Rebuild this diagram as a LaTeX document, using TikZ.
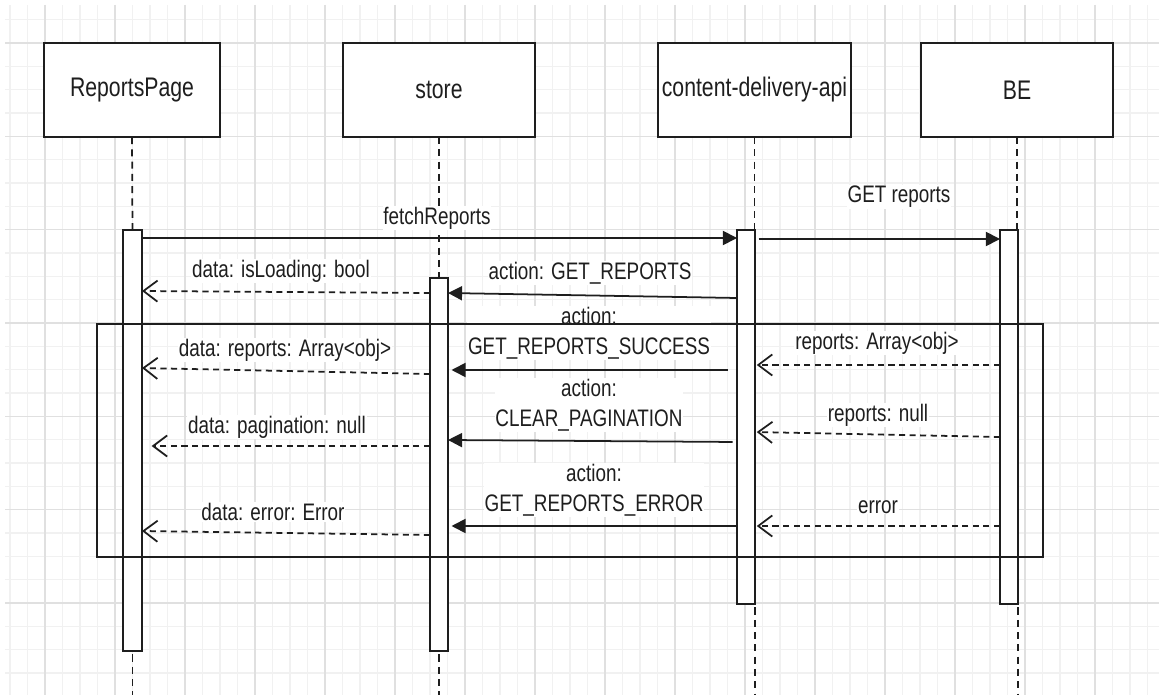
\documentclass[tikz,border=0pt]{standalone}
\usepackage{fontspec}
\setmainfont[FakeStretch=0.79]{Liberation Sans}
\usetikzlibrary{arrows.meta}
\definecolor{GridMinor}{RGB}{241,241,241}
\definecolor{GridMajor}{RGB}{224,224,224}
\definecolor{InkGray}{RGB}{30,30,30}

\begin{document}
\begin{tikzpicture}[x=0.02cm,y=-0.02cm,
  actor/.style={draw=InkGray,line width=1pt,fill=white,minimum height=1.88cm,inner sep=0pt,outer sep=0pt,text=InkGray,font=\fontsize{15.3}{18}\selectfont},
  bar/.style={draw=InkGray,line width=1pt,fill=white,minimum width=0.36cm,inner sep=0pt,outer sep=0pt},
  lifeline/.style={draw=InkGray,line width=1pt,dash pattern=on 4pt off 3pt},
  msg/.style={draw=InkGray,line width=1pt,-{Triangle[length=8pt,width=8pt]}},
  ret/.style={draw=InkGray,line width=1pt,dash pattern=on 3.5pt off 2.5pt,-{Straight Barb[length=8pt,width=12pt]}},
  lbl/.style={fill=white,inner sep=0.5pt,align=center,text=InkGray,font=\fontsize{13.6}{17}\selectfont}]
\useasboundingbox (0,0) rectangle (1159,695);
% background grid
\foreach \k in {0,...,65} \draw[GridMinor,line width=0.6pt] ({10+17.5*\k},5) -- ({10+17.5*\k},695);
\foreach \k in {-1,...,28} \draw[GridMinor,line width=0.6pt] (5,{43+23.333*\k}) -- (1159,{43+23.333*\k});
\foreach \k in {0,...,15} \draw[GridMajor,line width=0.6pt] ({45+70*\k},5) -- ({45+70*\k},695);
\foreach \k in {0,...,7} \draw[GridMajor,line width=0.6pt] (5,{43+93.333*\k}) -- (1159,{43+93.333*\k});
\coordinate (bottom) at (0,695);

% participants
\node[actor,minimum width=3.52cm] (rp) at (132,90) {ReportsPage};
\node[actor,minimum width=3.84cm] (store) at (439,90) {store};
\node[actor,minimum width=3.86cm] (cda) at (754.5,90) {content-delivery-api};
\node[actor,minimum width=3.84cm] (be) at (1017,90) {BE};

% activation bars
\node[bar,minimum width=0.38cm,minimum height=8.42cm] (rpbar) at (132.5,440.5) {};
\node[bar,minimum height=7.46cm] (storebar) at (439,464.5) {};
\node[bar,minimum height=7.48cm] (cdabar) at (746,417) {};
\node[bar,minimum height=7.48cm] (bebar) at (1009,417) {};

% lifelines
\draw[lifeline] (rp.south) -- (rpbar.north);
\draw[lifeline] (store.south) -- (storebar.north);
\draw[lifeline] (cda.south) -- (cda.south |- cdabar.north);
\draw[lifeline] (be.south) -- (be.south |- bebar.north);
\draw[lifeline,shorten <=2pt] (rpbar.south) -- (rpbar.south |- bottom);
\draw[lifeline,shorten <=2pt] (storebar.south) -- (storebar.south |- bottom);
\draw[lifeline,shorten <=2pt] (cdabar.south east) -- (cdabar.south east |- bottom);
\draw[lifeline,shorten <=2pt] (bebar.south east) -- (bebar.south east |- bottom);
\node[bar,minimum width=0.38cm,minimum height=8.42cm] at (rpbar) {};
\node[bar,minimum height=7.46cm] at (storebar) {};
\node[bar,minimum height=7.48cm] at (cdabar) {};
\node[bar,minimum height=7.48cm] at (bebar) {};

% messages
\draw[msg] (rpbar.east |- 0,238) -- (cdabar.west |- 0,238);
\draw[msg,shorten <=2pt] (cdabar.east |- 0,239) -- (bebar.west |- 0,239);
\draw[msg] (cdabar.west |- 0,298) -- (storebar.east |- 0,293);
\draw[ret] (storebar.west |- 0,293) -- (rpbar.east |- 0,291);
\draw[msg,shorten <=5pt,shorten >=2pt] (cdabar.west |- 0,370) -- (storebar.east |- 0,370);
\draw[ret,shorten >=1pt] (bebar.west |- 0,365) -- (cdabar.east |- 0,365);
\draw[ret] (storebar.west |- 0,374) -- (rpbar.east |- 0,368);
\draw[msg,shorten <=2.5pt] (cdabar.west |- 0,442) -- (storebar.east |- 0,440);
\draw[ret,shorten >=1pt] (bebar.west |- 0,437) -- (cdabar.east |- 0,432);
\draw[ret,shorten >=5.5pt] (storebar.west |- 0,446) -- (rpbar.east |- 0,446);
\draw[msg,shorten >=2pt] (cdabar.west |- 0,526) -- (storebar.east |- 0,526);
\draw[ret,shorten >=1pt] (bebar.west |- 0,526) -- (cdabar.east |- 0,526);
\draw[ret] (storebar.west |- 0,535) -- (rpbar.east |- 0,531);

% labels
\node[lbl] (fetch) at (437,218) {fetchReports};
\node[lbl] (getrep) at (899,197) {GET reports};
\node[lbl] (actget) at (590,273) {action: GET\_REPORTS};
\node[lbl] (loading) at (281,271) {data: isLoading: bool};
\node[lbl] (actok) at (589,333) {action:\\GET\_REPORTS\_SUCCESS};
\node[lbl] (beok) at (877,343) {reports: Array<obj>};
\node[lbl] (dataok) at (285,350) {data: reports: Array<obj>};
\node[lbl] (actclear) at (589,405) {action:\\CLEAR\_PAGINATION};
\node[lbl] (benull) at (878,415) {reports: null};
\node[lbl] (datapage) at (277,427) {data: pagination: null};
\node[lbl] (acterr) at (594,490) {action:\\GET\_REPORTS\_ERROR};
\node[lbl] (beerr) at (878,507) {error};
\node[lbl] (dataerr) at (273,512) {data: error: Error};

% fragment frame
\node[draw=InkGray,line width=1pt,minimum width=18.92cm,minimum height=4.66cm,inner sep=0pt,outer sep=0pt] (frag) at (570,440.5) {};
\end{tikzpicture}
\end{document}
